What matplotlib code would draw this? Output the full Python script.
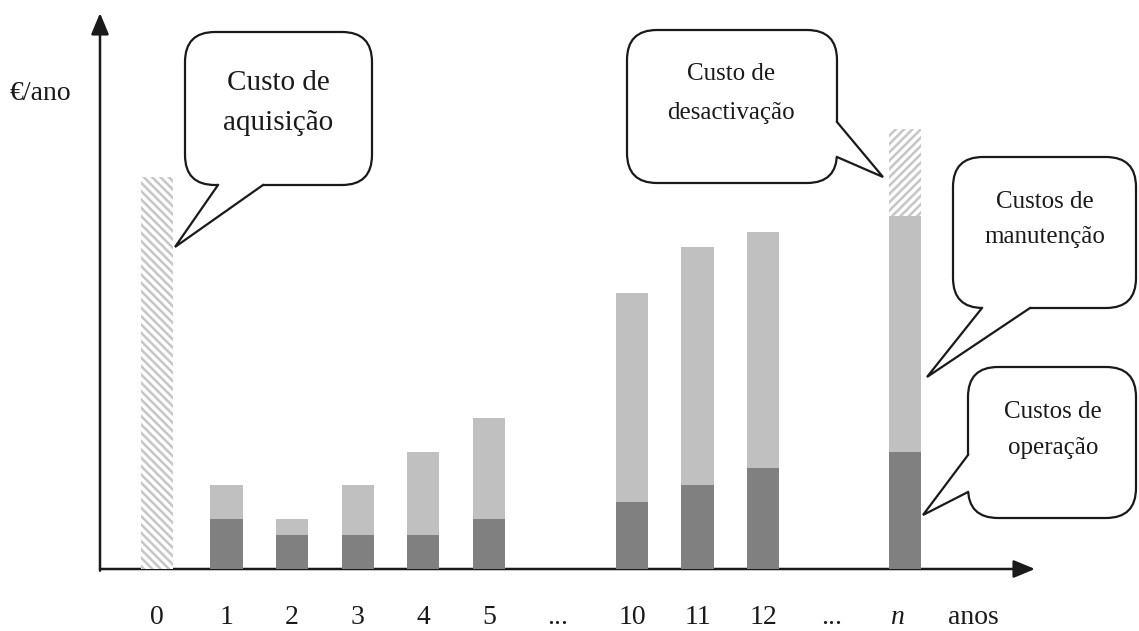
import matplotlib
matplotlib.use('Agg')
import matplotlib.pyplot as plt
from matplotlib.patches import FancyBboxPatch, Polygon
from matplotlib.transforms import Affine2D

plt.rcParams['font.family'] = ['Liberation Serif', 'DejaVu Serif']
plt.rcParams['hatch.linewidth'] = 1.8

W, H = 1139, 631

# --- dados (€/ano, unidades arbitrárias) ---
aquisicao_pos = 0
custo_aquisicao = 23.4

anos_pos = [1.06, 2.06, 3.06, 4.06, 5.06, 7.24, 8.24, 9.24, 11.4]
custo_operacao = [3, 2, 2, 2, 3, 4, 5, 6, 7]
custo_manutencao = [2, 1, 3, 5, 6, 12.5, 14.2, 14.1, 14.1]
custo_desactivacao = 5.15

tick_pos = [0, 1.06, 2.06, 3.06, 4.06, 5.06, 6.1, 7.24, 8.24, 9.24, 10.29, 11.28, 12.44]
tick_labels = ['0', '1', '2', '3', '4', '5', '...', '10', '11', '12', '...', 'n', 'anos']

DARK = '#808080'
LIGHT = '#c0c0c0'
HATCH = '#c6c6c6'
INK = '#1a1a1a'

fig = plt.figure(figsize=(W / 100, H / 100), dpi=100)
# coordenadas em pixels (origem no canto superior esquerdo)
pix = Affine2D().scale(1 / W, -1 / H).translate(0, 1) + fig.transFigure

ax = fig.add_axes([100 / W, (H - 569) / H, 935 / W, 556 / H])
x0, x1 = -0.869, 13.384
y1 = 33.19
ax.set_xlim(x0, x1)
ax.set_ylim(0, y1)
ax.axis('off')

# barras
bw = 0.49
ax.bar(aquisicao_pos, custo_aquisicao, bw, color='white', edgecolor=HATCH,
       hatch='\\\\\\\\', linewidth=0, zorder=3)
ax.bar(anos_pos, custo_operacao, bw, color=DARK, linewidth=0, zorder=3)
ax.bar(anos_pos, custo_manutencao, bw, bottom=custo_operacao, color=LIGHT,
       linewidth=0, zorder=3)
topo_n = custo_operacao[-1] + custo_manutencao[-1]
ax.bar(anos_pos[-1], custo_desactivacao, bw, bottom=topo_n, color='white',
       edgecolor=HATCH, hatch='////', linewidth=0, zorder=3)

# eixos com setas
arrow = dict(arrowstyle='-|>,head_length=0.65,head_width=0.27', lw=1.8,
             color=INK, mutation_scale=20, shrinkA=0, shrinkB=0)
ax.annotate('', xy=(x1, 0), xytext=(x0, 0), arrowprops=arrow,
            annotation_clip=False, zorder=2)
ax.annotate('', xy=(x0, y1), xytext=(x0, -0.1), arrowprops=arrow,
            annotation_clip=False, zorder=2)

# rótulos do eixo x
for p, lab in zip(tick_pos, tick_labels):
    ax.text(p, -48 / 16.75, lab, ha='center', va='center', fontsize=20,
            color=INK, style='italic' if lab == 'n' else 'normal')

ax.text(10, 93, '€/ano', transform=pix, ha='left', va='center', fontsize=20,
        color=INK)


def callout(box, b1, tip, b2, inward, lines, fs):
    bx, by, bwid, bh = box
    patch = FancyBboxPatch((bx, by), bwid, bh,
                           boxstyle='round,pad=0,rounding_size=30',
                           transform=pix, facecolor='white', edgecolor=INK,
                           lw=1.6, zorder=5)
    fig.add_artist(patch)
    dx, dy = inward
    fill = Polygon([(b1[0] + dx, b1[1] + dy), b1, tip, b2,
                    (b2[0] + dx, b2[1] + dy)], closed=True, transform=pix,
                   facecolor='white', edgecolor='none', zorder=6)
    fig.add_artist(fill)
    fig.add_artist(plt.Line2D([b1[0], tip[0], b2[0]], [b1[1], tip[1], b2[1]],
                              transform=pix, color=INK, lw=1.6, zorder=7,
                              solid_joinstyle='miter'))
    for (tx, ty), s in lines:
        fig.text(tx, ty, s, transform=pix, ha='center', va='center',
                 fontsize=fs, color=INK, zorder=8)


callout((185, 32, 187, 153), (218, 185), (175, 247), (263, 185), (0, -5),
        [((278, 83), 'Custo de'), ((278, 123), 'aquisição')], 21)
callout((627, 30, 210, 153), (837, 122), (883, 177), (837, 157), (-5, 0),
        [((731, 74), 'Custo de'), ((731, 113), 'desactivação')], 18)
callout((953, 157, 183, 151), (982, 308), (927, 377), (1030, 308), (0, -5),
        [((1045, 202), 'Custos de'), ((1045, 237), 'manutenção')], 18)
callout((968, 367, 168, 151), (968, 455), (923, 515), (968, 492), (5, 0),
        [((1053, 412), 'Custos de'), ((1053, 448), 'operação')], 18)

fig.savefig('out.png', dpi=100)
